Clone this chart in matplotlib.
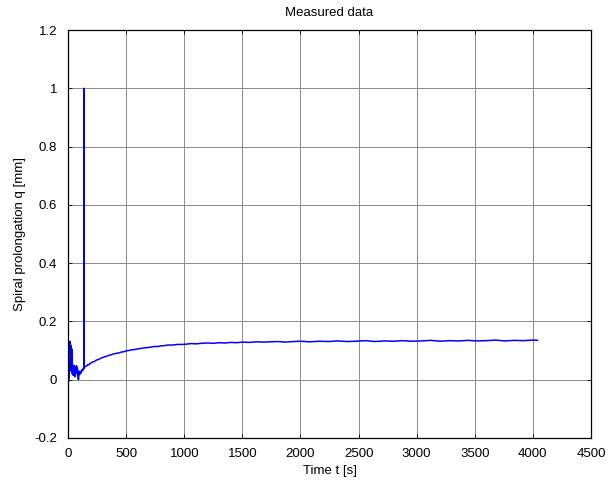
import matplotlib
matplotlib.use('Agg')
import matplotlib.pyplot as plt

t = [0, 5, 10, 14, 18, 21, 24, 27, 30, 33, 36, 40, 44, 48, 52, 56, 60, 64,
     68, 72, 76, 80, 85, 90, 95, 100, 105, 110, 115, 120, 125, 130, 134, 137,
     138, 139, 142, 150, 160, 170, 180, 190, 200, 212, 225, 238, 250, 262,
     275, 288, 300, 315, 330, 345, 360, 380, 400, 420, 440, 460, 480, 500,
     520, 540, 560, 580, 600, 625, 650, 675, 700, 725, 750, 775, 800, 830,
     860, 900, 940, 980, 1020, 1060, 1100, 1150, 1200, 1250, 1300, 1350,
     1400, 1450, 1500, 1560, 1620, 1680, 1740, 1800, 1870, 1940, 2000, 2080,
     2160, 2240, 2320, 2400, 2480, 2560, 2640, 2720, 2800, 2880, 2960, 3040,
     3120, 3200, 3280, 3360, 3440, 3520, 3600, 3680, 3760, 3840, 3920, 4000,
     4040]
q = [-0.012, -0.005, 0.01, 0.06, 0.132, 0.09, 0.118, 0.03, 0.06, 0.105, 0.02,
     0.045, 0.015, 0.05, 0.025, 0.045, 0.01, 0.04, 0.02, 0.048, 0.03, 0.04,
     0.005, 0.0, 0.03, 0.018, 0.028, 0.022, 0.032, 0.03, 0.036, 0.033, 0.04,
     0.038, 1.0, 0.04, 0.043, 0.046, 0.047, 0.052, 0.051, 0.056, 0.058, 0.061,
     0.062, 0.066, 0.068, 0.07, 0.072, 0.075, 0.076, 0.079, 0.08, 0.083,
     0.084, 0.087, 0.089, 0.091, 0.092, 0.095, 0.096, 0.099, 0.1, 0.102,
     0.103, 0.104, 0.106, 0.107, 0.109, 0.11, 0.111, 0.113, 0.114, 0.114,
     0.116, 0.117, 0.119, 0.119, 0.121, 0.121, 0.122, 0.124, 0.123, 0.125,
     0.126, 0.125, 0.127, 0.126, 0.128, 0.127, 0.129, 0.128, 0.13, 0.129,
     0.13, 0.131, 0.129, 0.131, 0.132, 0.13, 0.132, 0.131, 0.133, 0.131,
     0.132, 0.134, 0.131, 0.133, 0.132, 0.134, 0.132, 0.133, 0.135, 0.132,
     0.134, 0.133, 0.135, 0.133, 0.134, 0.136, 0.133, 0.135, 0.134, 0.136,
     0.135]

plt.rcParams['font.family'] = 'Liberation Sans'
plt.rcParams['font.size'] = 9.5

fig = plt.figure(figsize=(6.08, 4.88), dpi=100)
ax = fig.add_axes([0.112, 0.1025, 0.860, 0.836])
ax.plot(t, q, color='#0000ff', lw=1.1)

ax.set_xlim(0, 4500)
ax.set_ylim(-0.2, 1.2)
ax.set_xticks(range(0, 4501, 500))
ax.set_yticks([-0.2, 0, 0.2, 0.4, 0.6, 0.8, 1, 1.2])
ax.set_yticklabels(['-0.2', '0', '0.2', '0.4', '0.6', '0.8', '1', '1.2'])
ax.grid(True, color='#8c8c8c', lw=0.7)
ax.set_axisbelow(True)
ax.tick_params(direction='in', top=True, right=True, length=3, width=0.6)
ax.tick_params(axis='x', pad=7)
ax.tick_params(axis='y', pad=8)
for s in ax.spines.values():
    s.set_linewidth(0.9)

ax.set_title('Measured data', fontsize=9.5, pad=10)
ax.set_xlabel('Time t [s]', fontsize=9.5, labelpad=4)
ax.set_ylabel('Spiral prolongation q [mm]', fontsize=9.5, labelpad=6)

fig.savefig('out.png', dpi=100)
